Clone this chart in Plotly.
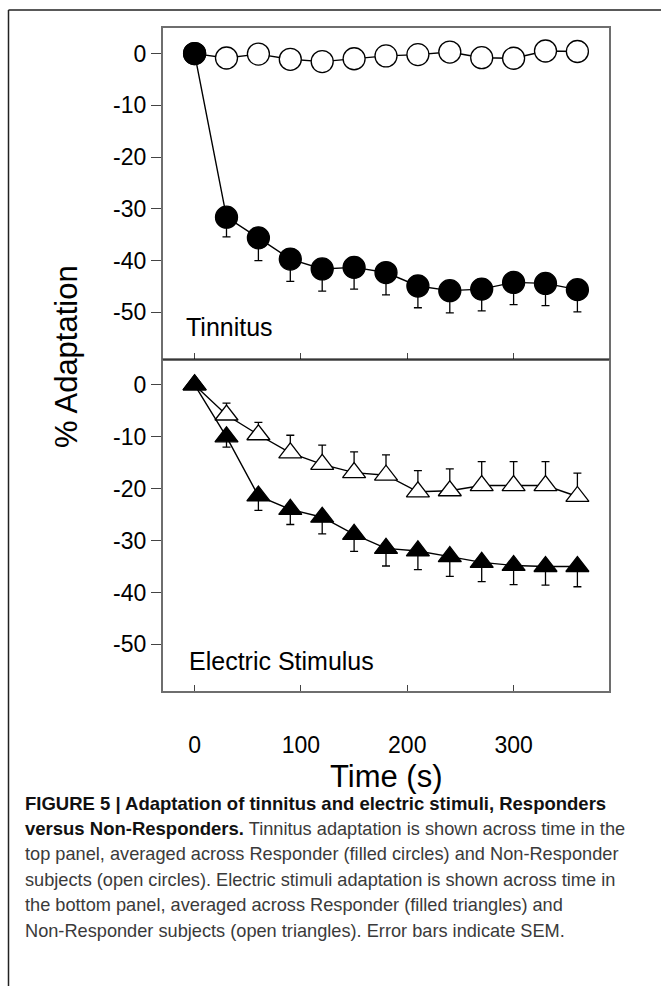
import plotly.graph_objects as go

W, H = 661, 986

time_s = [0, 30, 60, 90, 120, 150, 180, 210, 240, 270, 300, 330, 360]

tin_resp = [0, -31.6, -35.6, -39.7, -41.6, -41.3, -42.3, -44.9, -45.8, -45.5, -44.2, -44.4, -45.6]
tin_resp_sem = [0, 3.8, 4.4, 4.3, 4.3, 4.2, 4.3, 4.2, 4.3, 4.2, 4.3, 4.3, 4.3]
tin_nonresp = [0, -0.85, -0.1, -1.1, -1.55, -1.0, -0.45, -0.2, 0.3, -0.8, -0.9, 0.5, 0.4]

elec_resp = [0, -10.0, -21.4, -24.0, -25.5, -28.8, -31.5, -32.0, -33.1, -34.2, -34.8, -35.0, -35.0]
elec_resp_sem = [0, 2.0, 2.8, 2.9, 3.2, 3.3, 3.4, 3.6, 3.8, 3.7, 3.7, 3.6, 3.9]
elec_nonresp = [0, -5.8, -9.6, -13.1, -15.3, -16.9, -17.4, -20.6, -20.4, -19.4, -19.4, -19.4, -21.5]
elec_nonresp_sem = [0, 2.3, 2.4, 3.4, 3.7, 4.0, 3.9, 4.1, 4.2, 4.6, 4.6, 4.6, 4.5]

x_ticks = [0, 100, 200, 300]
x_tick_labels = ["0", "100", "200", "300"]
y_ticks = [0, -10, -20, -30, -40, -50]
y_tick_labels = ["0", "-10", "-20", "-30", "-40", "-50"]

caption_lines = [
    ("FIGURE 5 | Adaptation of tinnitus and electric stimuli, Responders", ""),
    ("versus Non-Responders.", " Tinnitus adaptation is shown across time in the"),
    ("", "top panel, averaged across Responder (filled circles) and Non-Responder"),
    ("", "subjects (open circles). Electric stimuli adaptation is shown across time in"),
    ("", "the bottom panel, averaged across Responder (filled triangles) and"),
    ("", "Non-Responder subjects (open triangles). Error bars indicate SEM."),
]

zeros = [0] * len(time_s)


def px_x(p):
    return p / W


def px_y(p):
    return 1 - p / H


LINE = dict(color="black", width=1.4)

fig = go.Figure()

# top panel (x2, y2): tinnitus
fig.add_trace(go.Scatter(
    x=time_s, y=tin_nonresp, xaxis="x2", yaxis="y2", mode="lines+markers",
    line=LINE, marker=dict(symbol="circle", size=22, color="white", line=dict(color="black", width=1.3)),
    showlegend=False, cliponaxis=False))
fig.add_trace(go.Scatter(
    x=time_s, y=tin_resp, xaxis="x2", yaxis="y2", mode="lines+markers",
    line=LINE, marker=dict(symbol="circle", size=22, color="black", line=dict(color="black", width=1.3)),
    error_y=dict(type="data", symmetric=False, array=zeros, arrayminus=tin_resp_sem,
                 color="black", thickness=1.3, width=4),
    showlegend=False, cliponaxis=False))

# bottom panel (x, y): electric stimulus
fig.add_trace(go.Scatter(
    x=time_s, y=elec_nonresp, xaxis="x", yaxis="y", mode="lines+markers",
    line=LINE, marker=dict(symbol="triangle-up", size=20, color="white", line=dict(color="black", width=1.3)),
    error_y=dict(type="data", symmetric=False, array=elec_nonresp_sem, arrayminus=zeros,
                 color="black", thickness=1.3, width=4),
    showlegend=False, cliponaxis=False))
fig.add_trace(go.Scatter(
    x=time_s, y=elec_resp, xaxis="x", yaxis="y", mode="lines+markers",
    line=LINE, marker=dict(symbol="triangle-up", size=20, color="black", line=dict(color="black", width=1.3)),
    error_y=dict(type="data", symmetric=False, array=zeros, arrayminus=elec_resp_sem,
                 color="black", thickness=1.3, width=4),
    showlegend=False, cliponaxis=False))

xdom = [px_x(162.7), px_x(609.3)]
ytop = [px_y(359), px_y(27.7)]
ybot = [px_y(691), px_y(359)]

AX = dict(showline=True, linecolor="#6e6e6e", linewidth=1.5,
          showgrid=False, zeroline=False)
tickfont = dict(family="Liberation Sans, Arial, sans-serif", size=23, color="black")

fig.update_layout(
    width=W, height=H,
    margin=dict(l=0, r=0, t=0, b=0),
    paper_bgcolor="white", plot_bgcolor="white",
    xaxis=dict(**AX, mirror=False, domain=xdom, anchor="y", range=[-30, 390],
               tickvals=x_ticks, ticktext=x_tick_labels,
               ticks="inside", ticklen=6, tickcolor="#444", tickwidth=1.2,
               tickfont=tickfont, ticklabelstandoff=33),
    yaxis=dict(**AX, mirror=True, domain=ybot, anchor="x", range=[-59, 5],
               tickvals=y_ticks, ticktext=y_tick_labels,
               ticks="outside", ticklen=10, tickcolor="#444", tickwidth=1.2,
               tickfont=tickfont),
    xaxis2=dict(**AX, mirror=True, domain=xdom, anchor="y2", range=[-30, 390],
                tickvals=x_ticks, ticktext=x_tick_labels,
                ticks="inside", ticklen=6, tickcolor="#444", tickwidth=1.2,
                showticklabels=False, matches="x"),
    yaxis2=dict(**AX, mirror=True, domain=ytop, anchor="x2", range=[-59, 5],
                tickvals=y_ticks, ticktext=y_tick_labels,
                ticks="outside", ticklen=10, tickcolor="#444", tickwidth=1.2,
                tickfont=tickfont),
)

# divider line between panels
fig.add_shape(type="line", xref="paper", yref="paper",
              x0=xdom[0], x1=xdom[1], y0=px_y(359), y1=px_y(359),
              line=dict(color="black", width=1.2))

# figure frame (top and left rules)
fig.add_shape(type="line", xref="paper", yref="paper",
              x0=px_x(8.5), x1=1, y0=px_y(10), y1=px_y(10),
              line=dict(color="#222", width=1.5))
fig.add_shape(type="line", xref="paper", yref="paper",
              x0=px_x(8.5), x1=px_x(8.5), y0=0, y1=px_y(10),
              line=dict(color="#222", width=1.5))

labfont = dict(family="Liberation Sans, Arial, sans-serif", size=25, color="black")
fig.add_annotation(text="Tinnitus", xref="paper", yref="paper",
                   x=px_x(184), y=px_y(327), xanchor="left", yanchor="middle",
                   showarrow=False, font=labfont)
fig.add_annotation(text="Electric Stimulus", xref="paper", yref="paper",
                   x=px_x(187), y=px_y(661), xanchor="left", yanchor="middle",
                   showarrow=False, font=labfont)

fig.add_annotation(text="% Adaptation", xref="paper", yref="paper",
                   x=px_x(67), y=px_y(357), xanchor="center", yanchor="middle",
                   textangle=-90, showarrow=False,
                   font=dict(family="Liberation Sans, Arial, sans-serif", size=31, color="black"))
fig.add_annotation(text="Time (s)", xref="paper", yref="paper",
                   x=px_x(386), y=px_y(776), xanchor="center", yanchor="middle",
                   showarrow=False,
                   font=dict(family="Liberation Sans, Arial, sans-serif", size=31, color="black"))

cap_y = [803, 828.5, 854, 879.5, 905, 930.5]
for (bold_part, reg_part), yy in zip(caption_lines, cap_y):
    txt = ""
    if bold_part:
        txt += '<span style="color:#111111;font-size:18.5px"><b>' + bold_part + '</b></span>'
    txt += reg_part
    fig.add_annotation(text=txt, xref="paper", yref="paper",
                       x=px_x(23), y=px_y(yy), xanchor="left", yanchor="middle",
                       align="left", showarrow=False,
                       font=dict(family="Liberation Sans Narrow, Arial Narrow, Liberation Sans, sans-serif",
                                 size=18.2, color="#3a3a3a"))

fig.write_html("out.html", config={"displayModeBar": False},
               post_script="document.body.style.margin='0';document.body.style.overflow='hidden';")
